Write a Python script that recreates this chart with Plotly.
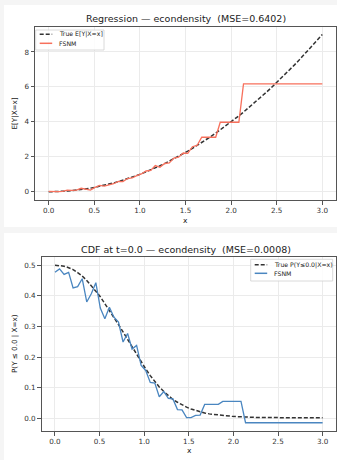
import plotly.graph_objects as go

# ---------------- data ----------------
x_grid = [0.000, 0.051, 0.102, 0.153, 0.203, 0.254, 0.305, 0.356, 0.407, 0.458,
          0.508, 0.559, 0.610, 0.661, 0.712, 0.763, 0.814, 0.864, 0.915, 0.966,
          1.017, 1.068, 1.119, 1.169, 1.220, 1.271, 1.322, 1.373, 1.424, 1.475,
          1.525, 1.576, 1.627, 1.678, 1.729, 1.780, 1.831, 1.881, 1.932, 1.983,
          2.034, 2.085, 2.136, 2.186, 2.237, 2.288, 2.339, 2.390, 2.441, 2.492,
          2.542, 2.593, 2.644, 2.695, 2.746, 2.797, 2.847, 2.898, 2.949, 3.000]

reg_true = [0.000, 0.003, 0.010, 0.023, 0.041, 0.065, 0.093, 0.127, 0.166, 0.210,
            0.258, 0.312, 0.372, 0.437, 0.507, 0.582, 0.663, 0.746, 0.837, 0.933,
            1.034, 1.141, 1.252, 1.367, 1.488, 1.615, 1.748, 1.885, 2.028, 2.176,
            2.326, 2.484, 2.647, 2.816, 2.989, 3.168, 3.352, 3.538, 3.733, 3.932,
            4.137, 4.347, 4.562, 4.779, 5.004, 5.235, 5.471, 5.712, 5.959, 6.210,
            6.462, 6.724, 6.991, 7.263, 7.540, 7.823, 8.105, 8.398, 8.696, 9.000]

reg_fsnm = [0.02, 0.00, 0.01, 0.02, 0.10, 0.08, 0.09, 0.20, 0.17, 0.10,
            0.25, 0.37, 0.33, 0.40, 0.46, 0.60, 0.58, 0.76, 0.79, 0.92,
            1.02, 1.19, 1.22, 1.50, 1.40, 1.62, 1.65, 1.93, 1.98, 2.22,
            2.20, 2.58, 2.65, 3.12, 3.12, 3.12, 3.12, 3.98, 3.98, 3.98,
            3.98, 3.98, 6.17, 6.17, 6.17, 6.17, 6.17, 6.17, 6.17, 6.17,
            6.17, 6.17, 6.17, 6.17, 6.17, 6.17, 6.17, 6.17, 6.17, 6.17]

cdf_true = [0.500, 0.499, 0.497, 0.492, 0.486, 0.476, 0.465, 0.450, 0.434, 0.415,
            0.397, 0.375, 0.353, 0.330, 0.306, 0.282, 0.257, 0.233, 0.209, 0.184,
            0.161, 0.139, 0.119, 0.102, 0.087, 0.073, 0.061, 0.052, 0.043, 0.036,
            0.030, 0.025, 0.021, 0.017, 0.014, 0.012, 0.010, 0.008, 0.007, 0.006,
            0.005, 0.004, 0.004, 0.003, 0.003, 0.002, 0.002, 0.002, 0.002, 0.001,
            0.001, 0.001, 0.001, 0.001, 0.001, 0.001, 0.001, 0.001, 0.001, 0.001]

cdf_fsnm = [0.477, 0.488, 0.470, 0.477, 0.426, 0.430, 0.456, 0.380, 0.407, 0.443,
            0.360, 0.325, 0.363, 0.330, 0.314, 0.249, 0.277, 0.226, 0.238, 0.172,
            0.156, 0.117, 0.115, 0.070, 0.087, 0.065, 0.063, 0.028, 0.027, 0.002,
            0.002, 0.009, 0.010, 0.045, 0.045, 0.045, 0.045, 0.055, 0.055, 0.055,
            0.055, 0.055, -0.015, -0.015, -0.015, -0.015, -0.015, -0.015, -0.015, -0.015,
            -0.015, -0.015, -0.015, -0.015, -0.015, -0.015, -0.015, -0.015, -0.015, -0.015]

x_ticks = [0.0, 0.5, 1.0, 1.5, 2.0, 2.5, 3.0]
reg_yticks = [0, 2, 4, 6, 8]
cdf_yticks = [0.0, 0.1, 0.2, 0.3, 0.4, 0.5]

title_top = "Regression — econdensity  (MSE=0.6402)"
title_bot = "CDF at t=0.0 — econdensity  (MSE=0.0008)"
ylabel_top = "E[Y|X=x]"
ylabel_bot = "P(Y ≤ 0.0 | X=x)"
leg_top = ["True E[Y|X=x]", "FSNM"]
leg_bot = ["True P(Y≤0.0|X=x)", "FSNM"]

# ---------------- layout helpers ----------------
W, H = 337, 460
ML, MR, MT, MB = 35, 1, 27, 29
PW = W - ML - MR
PH = H - MT - MB


def px(xp):
    return (xp - ML) / PW


def py(yp):
    return (H - MB - yp) / PH


FONT = "DejaVu Sans"
RED = "#f7705c"
BLUE = "#4a86c0"
DASH = "#333333"
SPINE = "#555555"
GRID = "#ebebeb"

fig = go.Figure()

fig.add_trace(go.Scatter(x=x_grid, y=reg_true, mode="lines", xaxis="x", yaxis="y",
                         line=dict(color=DASH, width=1.5, dash="4px,2px"), showlegend=False))
fig.add_trace(go.Scatter(x=x_grid, y=reg_fsnm, mode="lines", xaxis="x", yaxis="y",
                         line=dict(color=RED, width=1.3), showlegend=False))
fig.add_trace(go.Scatter(x=x_grid, y=cdf_true, mode="lines", xaxis="x2", yaxis="y2",
                         line=dict(color=DASH, width=1.5, dash="4px,2px"), showlegend=False))
fig.add_trace(go.Scatter(x=x_grid, y=cdf_fsnm, mode="lines", xaxis="x2", yaxis="y2",
                         line=dict(color=BLUE, width=1.3), showlegend=False))

axis_common = dict(showline=True, mirror=True, linecolor=SPINE, linewidth=1,
                   showgrid=True, gridcolor=GRID, gridwidth=1, zeroline=False,
                   ticks="outside", ticklen=3.5, tickwidth=1, tickcolor=SPINE,
                   tickfont=dict(family=FONT, size=7.2, color="#333"))

fig.update_layout(
    width=W, height=H,
    margin=dict(l=ML, r=MR, t=MT, b=MB),
    paper_bgcolor="#f5f5f5", plot_bgcolor="white",
    showlegend=False,
    xaxis=dict(domain=[0, 1], anchor="y", range=[-0.15, 3.15], tickvals=x_ticks,
               ticktext=[f"{v:.1f}" for v in x_ticks], **axis_common),
    yaxis=dict(domain=[py(200), 1], anchor="x", range=[-0.47, 9.43], tickvals=reg_yticks,
               **axis_common),
    xaxis2=dict(domain=[px(41.6), 1], anchor="y2", range=[-0.15, 3.15], tickvals=x_ticks,
                ticktext=[f"{v:.1f}" for v in x_ticks], **axis_common),
    yaxis2=dict(domain=[0, py(257)], anchor="x2", range=[-0.042, 0.527], tickvals=cdf_yticks,
                ticktext=[f"{v:.1f}" for v in cdf_yticks], **axis_common),
)

shapes = []
# cards
shapes.append(dict(type="rect", xref="paper", yref="paper", x0=px(4), x1=px(340), y0=py(5), y1=py(227),
                   fillcolor="white", line=dict(width=0), layer="below"))
shapes.append(dict(type="rect", xref="paper", yref="paper", x0=px(4), x1=px(340), y0=py(233), y1=py(465),
                   fillcolor="white", line=dict(width=0), layer="below"))

annotations = []


def text(xp, yp, s, size, anchor="center", angle=0, color="#222"):
    annotations.append(dict(x=px(xp), y=py(yp), xref="paper", yref="paper", text=s,
                            showarrow=False, xanchor=anchor, yanchor="middle", textangle=angle,
                            font=dict(family=FONT, size=size, color=color)))


text(185.5, 18.3, title_top, 9.5)
text(185.5, 249, title_bot, 9.5)
text(185.5, 220, "x", 7.5)
text(189, 450, "x", 7.5)
text(14, 113.5, ylabel_top, 7.2, angle=-90)
text(14, 344, ylabel_bot, 7.2, angle=-90)


def legend(x0, y0, x1, y1, rows, labels, colors, dashes):
    shapes.append(dict(type="rect", xref="paper", yref="paper", x0=px(x0), x1=px(x1), y0=py(y0), y1=py(y1),
                       fillcolor="rgba(255,255,255,0.85)", line=dict(color="#d0d0d0", width=0.8)))
    for yr, lab, c, d in zip(rows, labels, colors, dashes):
        shapes.append(dict(type="line", xref="paper", yref="paper", x0=px(x0 + 4), x1=px(x0 + 16.5),
                           y0=py(yr), y1=py(yr), line=dict(color=c, width=1.5, dash=d)))
        text(x0 + 21.5, yr, lab, 6.2, anchor="left", color="#222")


legend(35.7, 30, 104, 50, [34.3, 43.3], leg_top, [DASH, RED], ["4px,2px", "solid"])
legend(250.7, 259.3, 332.7, 281, [264.7, 273.3], leg_bot, [DASH, BLUE], ["4px,2px", "solid"])

fig.update_layout(shapes=shapes, annotations=annotations)
fig.write_html("out.html", config={"displayModeBar": False},
               post_script="document.body.style.margin='0';document.documentElement.style.overflow='hidden';")
